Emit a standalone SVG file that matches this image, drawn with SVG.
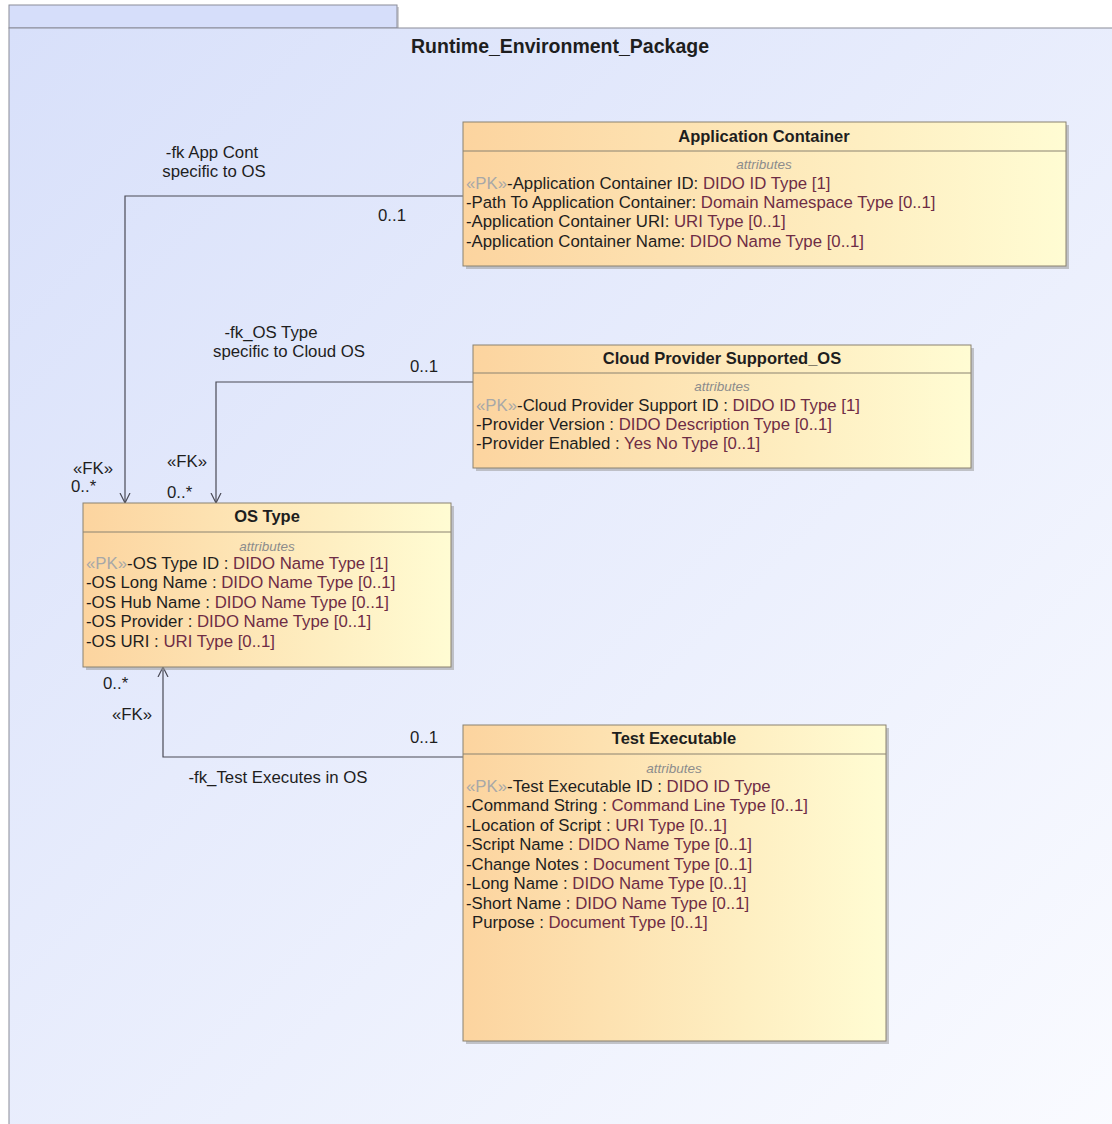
<svg xmlns="http://www.w3.org/2000/svg" width="1112" height="1124" viewBox="0 0 1112 1124">
<style>
text{font-family:"Liberation Sans",Arial,sans-serif;font-size:16.8px;fill:#1e1e1e}
.title{font-weight:bold;text-anchor:middle;font-size:16.5px}
.attrhdr{font-style:italic;font-size:13.5px;fill:#8c8c8c;text-anchor:middle}
.pk{fill:#a8a8a8}
.ty{fill:#6e2c45}
.box{fill:url(#boxGrad);stroke:#8a8270;stroke-width:1}
.shadow{fill:#9a9a9a;opacity:0.55}
.sep{stroke:#8a8270;stroke-width:1}
.conn{fill:none;stroke:#4a4a55;stroke-width:1.2}
.lbl{text-anchor:middle}
</style>
<defs>
<linearGradient id="pkgGrad" x1="0" y1="0" x2="1" y2="1">
<stop offset="0" stop-color="#d8e0fa"/>
<stop offset="1" stop-color="#fafbff"/>
</linearGradient>
<linearGradient id="boxGrad" x1="0" y1="0" x2="1" y2="0">
<stop offset="0" stop-color="#fcd49f"/>
<stop offset="1" stop-color="#fffcd3"/>
</linearGradient>
<marker id="open" markerWidth="12" markerHeight="12" refX="10" refY="6" orient="auto" markerUnits="userSpaceOnUse">
<path d="M0,1 L10,6 L0,11" fill="none" stroke="#4a4a55" stroke-width="1.2"/>
</marker>
</defs>

<g id="package">
<rect x="11" y="7" width="388" height="23" fill="#a0a0a8" opacity="0.5"/>
<rect x="9" y="5" width="388" height="23" fill="#d6defa" stroke="#8a8c98" stroke-width="1"/>
<rect x="9" y="28" width="1120" height="1110" fill="url(#pkgGrad)" stroke="#8a8c98" stroke-width="1"/>
<text x="560" y="53" class="title" style="font-size:19.5px">Runtime_Environment_Package</text>
</g>

<g id="connectors">
<polyline class="conn" points="463,196 125,196 125,503" marker-end="url(#open)"/>
<polyline class="conn" points="473,382 216,382 216,503" marker-end="url(#open)"/>
<polyline class="conn" points="463,757 163,757 163,667" marker-end="url(#open)"/>
<text x="212" y="158" class="lbl">-fk App Cont</text>
<text x="214" y="177" class="lbl">specific to OS</text>
<text x="392" y="221" class="lbl">0..1</text>
<text x="73" y="474">«FK»</text>
<text x="71" y="492">0..*</text>
<text x="271" y="338" class="lbl">-fk_OS Type</text>
<text x="289" y="357" class="lbl">specific to Cloud OS</text>
<text x="424" y="372" class="lbl">0..1</text>
<text x="167" y="467">«FK»</text>
<text x="167" y="498">0..*</text>
<text x="278" y="783" class="lbl">-fk_Test Executes in OS</text>
<text x="424" y="743" class="lbl">0..1</text>
<text x="103" y="689">0..*</text>
<text x="112" y="720">«FK»</text>
</g>

<g id="app-container">
<rect class="shadow" x="466" y="125" width="603" height="144"/>
<rect class="box" x="463" y="122" width="603" height="144"/>
<line class="sep" x1="463" y1="151" x2="1066" y2="151"/>
<text x="764" y="142" class="title">Application Container</text>
<text x="764" y="169" class="attrhdr">attributes</text>
<text x="466" y="189"><tspan class="pk">«PK»</tspan>-Application Container ID: <tspan class="ty">DIDO ID Type [1]</tspan></text>
<text x="466" y="208">-Path To Application Container: <tspan class="ty">Domain Namespace Type [0..1]</tspan></text>
<text x="466" y="227">-Application Container URI: <tspan class="ty">URI Type [0..1]</tspan></text>
<text x="466" y="247">-Application Container Name: <tspan class="ty">DIDO Name Type [0..1]</tspan></text>
</g>

<g id="cloud-provider">
<rect class="shadow" x="476" y="348" width="498" height="123"/>
<rect class="box" x="473" y="345" width="498" height="123"/>
<line class="sep" x1="473" y1="373" x2="971" y2="373"/>
<text x="722" y="364" class="title">Cloud Provider Supported_OS</text>
<text x="722" y="391" class="attrhdr">attributes</text>
<text x="476" y="411"><tspan class="pk">«PK»</tspan>-Cloud Provider Support ID : <tspan class="ty">DIDO ID Type [1]</tspan></text>
<text x="476" y="430">-Provider Version : <tspan class="ty">DIDO Description Type [0..1]</tspan></text>
<text x="476" y="449">-Provider Enabled : <tspan class="ty">Yes No Type [0..1]</tspan></text>
</g>

<g id="os-type">
<rect class="shadow" x="86" y="506" width="368" height="164"/>
<rect class="box" x="83" y="503" width="368" height="164"/>
<line class="sep" x1="83" y1="532" x2="451" y2="532"/>
<text x="267" y="522" class="title">OS Type</text>
<text x="267" y="551" class="attrhdr">attributes</text>
<text x="86" y="569"><tspan class="pk">«PK»</tspan>-OS Type ID : <tspan class="ty">DIDO Name Type [1]</tspan></text>
<text x="86" y="588">-OS Long Name : <tspan class="ty">DIDO Name Type [0..1]</tspan></text>
<text x="86" y="608">-OS Hub Name : <tspan class="ty">DIDO Name Type [0..1]</tspan></text>
<text x="86" y="627">-OS Provider : <tspan class="ty">DIDO Name Type [0..1]</tspan></text>
<text x="86" y="647">-OS URI : <tspan class="ty">URI Type [0..1]</tspan></text>
</g>

<g id="test-executable">
<rect class="shadow" x="466" y="728" width="423" height="316"/>
<rect class="box" x="463" y="725" width="423" height="316"/>
<line class="sep" x1="463" y1="754" x2="886" y2="754"/>
<text x="674" y="744" class="title">Test Executable</text>
<text x="674" y="773" class="attrhdr">attributes</text>
<text x="466" y="792"><tspan class="pk">«PK»</tspan>-Test Executable ID : <tspan class="ty">DIDO ID Type</tspan></text>
<text x="466" y="811">-Command String : <tspan class="ty">Command Line Type [0..1]</tspan></text>
<text x="466" y="831">-Location of Script : <tspan class="ty">URI Type [0..1]</tspan></text>
<text x="466" y="850">-Script Name : <tspan class="ty">DIDO Name Type [0..1]</tspan></text>
<text x="466" y="870">-Change Notes : <tspan class="ty">Document Type [0..1]</tspan></text>
<text x="466" y="889">-Long Name : <tspan class="ty">DIDO Name Type [0..1]</tspan></text>
<text x="466" y="909">-Short Name : <tspan class="ty">DIDO Name Type [0..1]</tspan></text>
<text x="472" y="928">Purpose : <tspan class="ty">Document Type [0..1]</tspan></text>
</g>
</svg>
